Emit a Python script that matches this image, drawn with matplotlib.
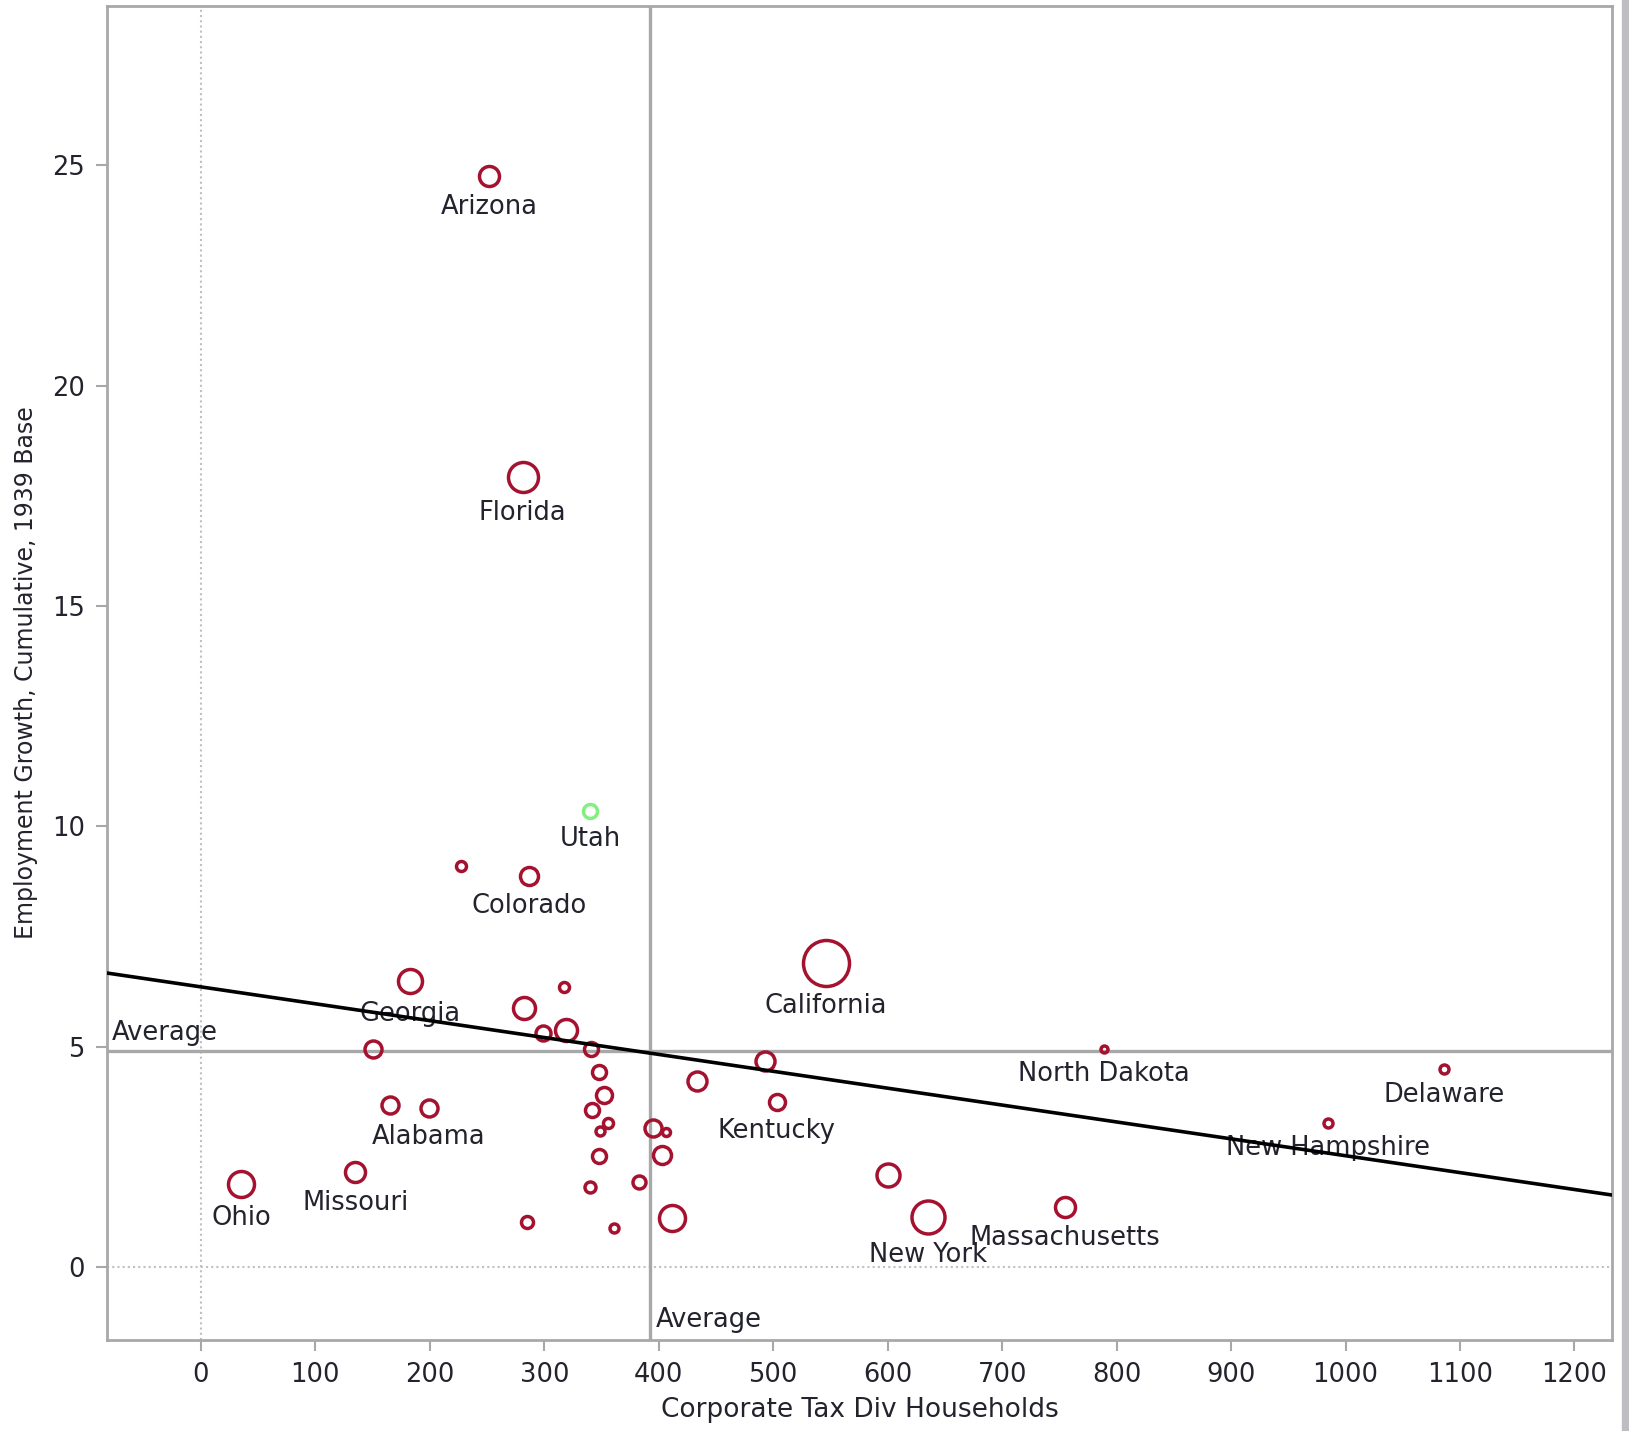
import numpy as np
import matplotlib.pyplot as plt
from matplotlib.patches import Rectangle

# Corporate tax per household vs. employment growth, by state
corp_tax = [252, 281, 340, 227, 287, 546, 183, 317, 282, 299, 319, 150, 341,
            348, 352, 342, 356, 349, 348, 340, 285, 361, 383, 395, 406, 403,
            412, 433, 493, 503, 600, 635, 755, 789, 1086, 985, 35, 135, 165, 199]
emp_growth = [24.76, 17.92, 10.35, 9.10, 8.87, 6.91, 6.49, 6.35, 5.88, 5.32,
              5.39, 4.96, 4.94, 4.42, 3.90, 3.57, 3.27, 3.08, 2.52, 1.81, 1.03,
              0.89, 1.93, 3.17, 3.06, 2.54, 1.11, 4.23, 4.68, 3.74, 2.09, 1.13,
              1.36, 4.94, 4.49, 3.27, 1.88, 2.16, 3.67, 3.62]
# bubble diameter (pixels), roughly proportional to state size
bubble = [20, 30, 14, 10, 18, 46, 24, 10, 22, 15, 22, 17, 14, 14, 16, 14, 10,
          9, 14, 11, 12, 9, 13, 17, 8, 18, 26, 19, 19, 16, 23, 33, 20, 7, 9,
          9, 26, 20, 17, 17]
names = ["Arizona", "Florida", "Utah", "", "Colorado", "California", "Georgia",
         "", "", "", "", "", "", "", "", "", "", "", "", "", "", "", "", "",
         "", "", "", "", "", "Kentucky", "", "New York", "Massachusetts",
         "North Dakota", "Delaware", "New Hampshire", "Ohio", "Missouri", "",
         "Alabama"]
highlight = "Utah"

avg_x = 392
avg_y = 4.9
trend_slope = -0.00383
trend_intercept = 6.36

red = "#a5122f"
green = "#80f080"
txt = "#23232e"
grey = "#a8a8a8"

fig = plt.figure(figsize=(16.29, 14.31), dpi=100)
ax = fig.add_axes([0.0657, 0.0636, 0.924, 0.9325])

ax.set_xlim(-82, 1233)
ax.set_ylim(-1.65, 28.62)

ax.axvline(0, color="#c0c0c0", lw=1.5, ls=(0, (1, 1.5)), zorder=1)
ax.axhline(0, color="#c0c0c0", lw=1.5, ls=(0, (1, 1.5)), zorder=1)
ax.axvline(avg_x, color=grey, lw=2.4, zorder=2)
ax.axhline(avg_y, color=grey, lw=2.4, zorder=2)

for x, y, d, n in zip(corp_tax, emp_growth, bubble, names):
    c = green if n == highlight else red
    ax.plot(x, y, "o", ms=d * 0.72, mfc="none", mec=c, mew=2.5, zorder=3)
    if n:
        off = d * 0.36 + 15
        ax.annotate(n, (x, y), xytext=(0, -off), textcoords="offset points",
                    ha="center", va="center", fontsize=18.5, color=txt,
                    zorder=4)

ax.axline((0, trend_intercept), slope=trend_slope, color="black", lw=2.6,
          zorder=5)

ax.text(-78, avg_y + 0.12, "Average", ha="left", va="bottom", fontsize=18.5,
        color=txt)
ax.text(avg_x + 5, -1.2, "Average", ha="left", va="center", fontsize=18.5,
        color=txt)

ax.set_xticks(range(0, 1201, 100))
ax.set_yticks(range(0, 26, 5))
ax.tick_params(colors=grey, labelcolor=txt, labelsize=18.5, length=8,
               width=1.5, pad=8)
for s in ax.spines.values():
    s.set_color(grey)
    s.set_linewidth(2)

ax.set_xlabel("Corporate Tax Div Households", fontsize=19, color=txt,
              labelpad=6)
ax.set_ylabel("Employment Growth, Cumulative, 1939 Base", fontsize=17,
              color=txt, labelpad=10)

# grey strip at the right edge of the screenshot
fig.patches.append(Rectangle((0.9957, 0), 0.0043, 1, transform=fig.transFigure,
                             color="#bdbdc2", zorder=0))

fig.savefig("out.png", dpi=100)
